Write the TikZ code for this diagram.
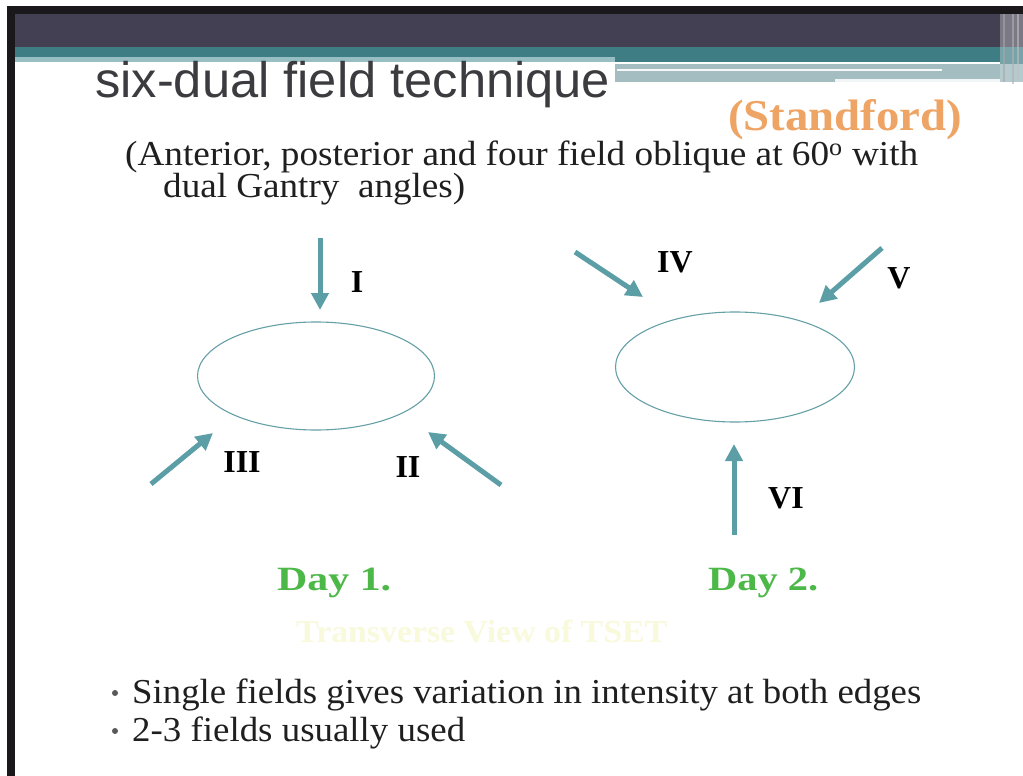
\documentclass[tikz,border=0pt]{standalone}
\usepackage{fontspec}
\usepackage{graphicx}
\setmainfont{Liberation Serif}
\newfontfamily\titlefont{Liberation Sans}
\usetikzlibrary{arrows.meta,shapes.geometric}
\definecolor{hdrdark}{RGB}{66,64,82}
\definecolor{hdrteal}{RGB}{62,125,132}
\definecolor{hdrgrey}{RGB}{163,189,193}
\definecolor{hdrlight}{RGB}{150,190,195}
\definecolor{framek}{RGB}{26,24,26}
\definecolor{arrowc}{RGB}{92,158,166}
\definecolor{ellc}{RGB}{100,160,166}
\definecolor{titlec}{RGB}{60,60,64}
\definecolor{orangec}{RGB}{238,164,100}
\definecolor{dayc}{RGB}{76,184,72}
\definecolor{faintc}{RGB}{249,249,220}
\begin{document}
\begin{tikzpicture}[x=1pt,y=-1pt,
  beam/.style={line width=5pt, draw=arrowc, -{Triangle[length=17pt,width=17pt]}},
  body/.style={ellipse, draw=ellc, line width=1.1pt, inner sep=0pt},
  roman/.style={font=\fontsize{32}{32}\selectfont\bfseries, text=black, inner sep=0pt},
  daylbl/.style={font=\fontsize{34}{34}\selectfont\bfseries, text=dayc, inner sep=0pt, anchor=base west},
  bodytext/.style={font=\fontsize{35}{35}\selectfont, text=black!88, inner sep=0pt, anchor=base west},
  bulletdot/.style={circle, fill=black!65, inner sep=0pt, minimum size=6pt}]
\useasboundingbox (0,0) rectangle (1023,776);
\fill[white] (0,0) rectangle (1023,776);
% header
\fill[framek] (7,6) rectangle (1023,14);
\fill[framek] (7,6) rectangle (15,776);
\fill[hdrdark] (15,14) rectangle (1000,47);
\fill[hdrteal] (15,47) rectangle (1010,62);
\fill[hdrlight] (15,57) rectangle (615,62);
\fill[hdrgrey] (615,64) rectangle (1010,82);
\fill[white!90!hdrgrey] (617,69) rectangle (942,71);
\fill[white!85!hdrgrey] (835,79) rectangle (1010,82);
\fill[hdrdark!70!white] (1000,14) rectangle (1023,47);
\fill[hdrteal!70!white] (1000,47) rectangle (1023,64);
\fill[hdrgrey!80!white] (1000,64) rectangle (1023,82);
\fill[black!35, opacity=0.6] (1003,14) rectangle (1005,82);
\fill[black!30, opacity=0.6] (1012,14) rectangle (1014,84);
\fill[black!25, opacity=0.6] (1017,14) rectangle (1019,80);
% title
\node[anchor=base west, inner sep=0pt, text=titlec] (title) at (95,97)
  {\resizebox{515pt}{\height}{\titlefont\fontsize{50}{50}\selectfont six-dual field technique}};
\node[anchor=base west, inner sep=0pt, text=orangec] (stanford) at (728,130)
  {\resizebox{234pt}{\height}{\fontsize{44}{44}\selectfont\bfseries (Standford)}};
\node[bodytext] (sub1) at (125,165)
  {\resizebox{793pt}{\height}{(Anterior, posterior and four field oblique at 60\textsuperscript{o} with}};
\node[bodytext] (sub2) at (163,197)
  {\resizebox{302pt}{\height}{dual Gantry\ \ angles)}};
% bodies
\node[body, minimum width=237pt, minimum height=108pt] (body1) at (316,376) {};
\node[body, minimum width=239pt, minimum height=110pt] (body2) at (735,367) {};
% day 1 beams
\coordinate (s1) at (320,238); \coordinate (t1) at (320,310);
\coordinate (s3) at (151,484); \coordinate (t3) at (213,433);
\coordinate (s2) at (501,485); \coordinate (t2) at (428,432);
\draw[beam] (s1) -- (t1);
\draw[beam] (s3) -- (t3);
\draw[beam] (s2) -- (t2);
\node[roman] (lI) at (357,282) {I};
\node[roman] (lIII) at (242,462) {III};
\node[roman] (lII) at (408,467) {II};
% day 2 beams
\coordinate (s4) at (575,252); \coordinate (t4) at (643,297);
\coordinate (s5) at (882,248); \coordinate (t5) at (819,303);
\coordinate (s6) at (734,535); \coordinate (t6) at (734,444);
\draw[beam] (s4) -- (t4);
\draw[beam] (s5) -- (t5);
\draw[beam] (s6) -- (t6);
\node[roman] (lIV) at (675,262) {IV};
\node[roman] (lV) at (899,278) {V};
\node[roman] (lVI) at (786,498) {VI};
% day labels
\node[daylbl] (day1) at (277,590) {\resizebox{114pt}{\height}{Day 1.}};
\node[daylbl] (day2) at (708,590) {\resizebox{110pt}{\height}{Day 2.}};
\node[anchor=base west, inner sep=0pt, text=faintc] (tv) at (296,642)
  {\resizebox{371pt}{\height}{\fontsize{32}{32}\selectfont\bfseries Transverse View of TSET}};
% bullets
\node[bulletdot] (b1) at (115,693) {};
\node[bulletdot] (b2) at (115,731) {};
\node[bodytext] (t1txt) at (132,703)
  {\resizebox{789pt}{\height}{Single fields gives variation in intensity at both edges}};
\node[bodytext] (t2txt) at (132,741)
  {\resizebox{333pt}{\height}{2-3 fields usually used}};
\end{tikzpicture}
\end{document}
